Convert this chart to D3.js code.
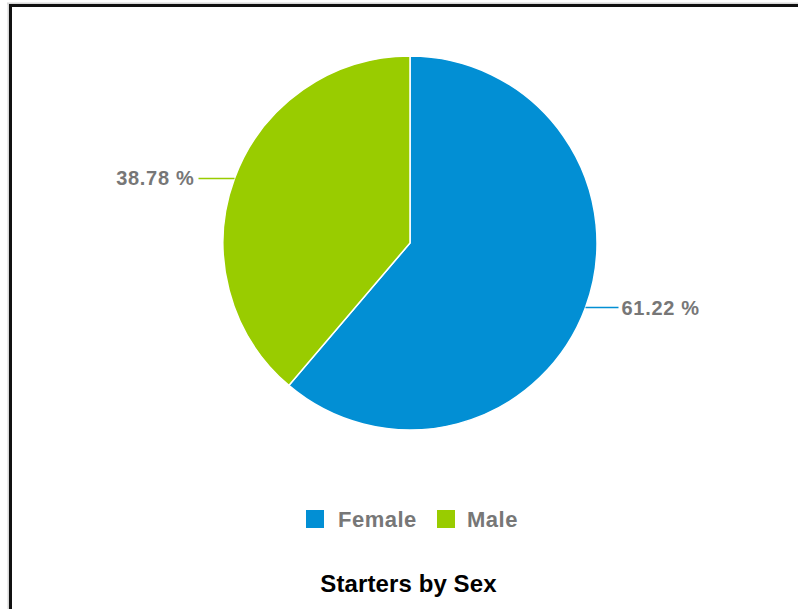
<!DOCTYPE html>
<html>
<head>
<meta charset="utf-8">
<script src="https://cdn.jsdelivr.net/npm/d3@7"></script>
<style>
  html, body { margin: 0; padding: 0; background: #fff; }
  svg { display: block; }
</style>
</head>
<body>
<svg id="chart" width="798" height="609"></svg>
<script>
const categories = ["Female", "Male"];
const values = [61.22, 38.78];
const labels = ["61.22 %", "38.78 %"];
const colors = ["#028fd4", "#99cc00"];
const title = "Starters by Sex";

const svg = d3.select("#chart");
const W = 798, H = 609;

// frame (only top and left visible in crop)
svg.append("rect").attr("x", 0).attr("y", 0).attr("width", W).attr("height", H).attr("fill", "#fff");
svg.append("line").attr("x1", 8.5).attr("x2", 8.5).attr("y1", 3).attr("y2", H).attr("stroke", "#d8d8d8").attr("stroke-width", 2);
svg.append("line").attr("x1", 7).attr("x2", W).attr("y1", 3.5).attr("y2", 3.5).attr("stroke", "#d8d8d8").attr("stroke-width", 2);
svg.append("line").attr("x1", 10.5).attr("x2", 10.5).attr("y1", 4).attr("y2", H).attr("stroke", "#111").attr("stroke-width", 3);
svg.append("line").attr("x1", 9).attr("x2", W).attr("y1", 5.5).attr("y2", 5.5).attr("stroke", "#111").attr("stroke-width", 3);

const cx = 410, cy = 243, r = 187;
const pie = d3.pie().sort(null).value(d => d)(values);
const arc = d3.arc().innerRadius(0).outerRadius(r);

const g = svg.append("g").attr("transform", `translate(${cx},${cy})`);
g.selectAll("path.slice").data(pie).join("path")
  .attr("class", "slice")
  .attr("d", arc)
  .attr("fill", (d, i) => colors[i])
  .attr("stroke", "#fff")
  .attr("stroke-width", 1.5);

// connectors and labels
pie.forEach((d, i) => {
  const a = (d.startAngle + d.endAngle) / 2;
  const x0 = Math.sin(a) * r, y0 = -Math.cos(a) * r;
  const right = x0 > 0;
  const x1 = x0 + (right ? 33 : -36);
  g.append("line")
    .attr("x1", x0).attr("y1", y0).attr("x2", x1).attr("y2", y0)
    .attr("stroke", colors[i]).attr("stroke-width", 1.5);
  g.append("text")
    .attr("x", x1 + (right ? 3 : -4)).attr("y", y0)
    .attr("dy", "0.35em")
    .attr("text-anchor", right ? "start" : "end")
    .attr("font-family", "Liberation Sans, Arial, sans-serif")
    .attr("font-weight", "bold")
    .attr("font-size", 20)
    .attr("letter-spacing", 0.7)
    .attr("fill", "#777")
    .text(labels[i]);
});

// legend
const legY = 519;
const legItems = [{x: 306, tx: 338}, {x: 437, tx: 467}];
categories.forEach((c, i) => {
  svg.append("rect").attr("x", legItems[i].x).attr("y", legY - 9).attr("width", 18).attr("height", 18).attr("fill", colors[i]);
  svg.append("text")
    .attr("x", legItems[i].tx).attr("y", legY).attr("dy", "0.35em")
    .attr("font-family", "Liberation Sans, Arial, sans-serif")
    .attr("font-weight", "bold")
    .attr("font-size", 22)
    .attr("letter-spacing", 0.5)
    .attr("fill", "#777")
    .text(c);
});

svg.append("text")
  .attr("x", 408.5).attr("y", 584).attr("dy", "0.35em")
  .attr("text-anchor", "middle")
  .attr("font-family", "Liberation Sans, Arial, sans-serif")
  .attr("font-weight", "bold")
  .attr("font-size", 24)
  .attr("letter-spacing", 0.1)
  .attr("fill", "#000")
  .text(title);
</script>
</body>
</html>
